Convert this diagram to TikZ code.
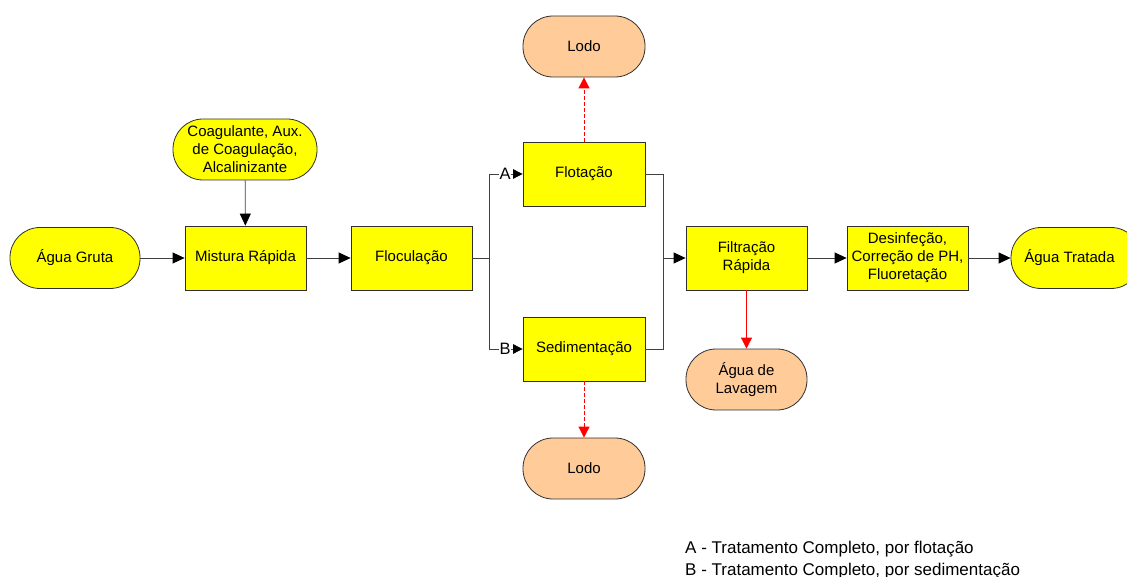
\documentclass[tikz,border=0pt]{standalone}
\usepackage{fontspec}
\setmainfont{Liberation Sans}
\usetikzlibrary{arrows.meta}

\definecolor{procfill}{HTML}{FFFF00}
\definecolor{wastefill}{HTML}{FFCC99}
\definecolor{edgegray}{HTML}{303030}
\definecolor{linegray}{HTML}{404040}
\definecolor{wastered}{HTML}{FF0000}

\tikzset{
  base/.style={font=\fontsize{15}{18}\selectfont, align=center, inner sep=1pt,
    draw=edgegray, line width=0.8pt},
  procbox/.style={base, rectangle, fill=procfill, minimum width=121pt, minimum height=64pt},
  terminal/.style={base, rectangle, rounded corners=30pt, fill=procfill,
    minimum width=#1, minimum height=61pt},
  terminal/.default=130pt,
  waste/.style={terminal=122pt, fill=wastefill},
  flow/.style={draw=linegray, line width=0.8pt},
  flowarrow/.style={flow, -{Triangle[length=12pt, width=11pt, color=black]}},
  branchtip/.style={flow, -{Triangle[length=9.5pt, width=9.5pt, color=black]}},
  redflow/.style={draw=wastered, line width=0.8pt, -{Triangle[length=11pt, width=11pt]}},
  reddash/.style={redflow, dash pattern=on 4pt off 2pt},
  tag/.style={font=\fontsize{16.5}{18}\selectfont, fill=white, inner sep=0.5pt},
  legend/.style={font=\fontsize{17}{20}\selectfont, anchor=base west, inner sep=0pt}
}

\begin{document}
\begin{tikzpicture}[x=1pt, y=-1pt]
  \useasboundingbox (0,0) rectangle (1127,577);

  % Process units
  \node[terminal] (agua) at (75,258) {Água Gruta};
  \node[terminal=144pt] (coag) at (245,149.5) {Coagulante, Aux.\\de Coagulação,\\Alcalinizante};
  \node[procbox] (mist) at (245.5,258) {Mistura Rápida};
  \node[procbox] (floc) at (411.5,258) {Floculação};
  \node[procbox, minimum width=122pt] (flot) at (584,174) {Flotação};
  \node[procbox, minimum width=122pt] (sed) at (584,349) {Sedimentação};
  \node[procbox] (filt) at (746.5,258) {Filtração\\Rápida};
  \node[procbox] (desinf) at (907.5,258) {Desinfeção,\\Correção de PH,\\Fluoretação};
  \node[terminal] (tratada) at (1076,258) {\hspace*{-13pt}Água Tratada};

  % Residues
  \node[waste] (lodoA) at (584,46.5) {Lodo};
  \node[waste] (lodoB) at (584,468.5) {Lodo};
  \node[terminal=121pt, fill=wastefill] (lavagem) at (746.5,379.5) {Água de\\Lavagem};

  % Junctions of the two treatment routes
  \coordinate (split) at (489.5,258);
  \coordinate (merge) at (663,258);

  % Main line
  \draw[flowarrow] (agua) -- (mist);
  \draw[flowarrow] (coag) -- (mist);
  \draw[flowarrow] (mist) -- (floc);
  \draw[flow] (floc.east) -- (split);
  \draw[branchtip] (split) |- (flot.west);
  \draw[branchtip] (split) |- (sed.west);
  \node[tag] (tagA) at (505,174) {A};
  \node[tag] (tagB) at (505,349) {B};
  \draw[flow] (flot.east) -| (merge);
  \draw[flow] (sed.east) -| (merge);
  \draw[flowarrow] (merge) -- (filt.west);
  \draw[flowarrow] (filt) -- (desinf);
  \draw[flowarrow] (desinf) -- (tratada.west);

  % Residue streams
  \draw[reddash] (flot) -- (lodoA);
  \draw[reddash] (sed) -- (lodoB);
  \draw[redflow] (filt) -- (lavagem);

  % Legend
  \node[legend] (legA) at (685,553.5) {A - Tratamento Completo, por flotação};
  \node[legend] (legB) at (685,575) {B - Tratamento Completo, por sedimentação};
\end{tikzpicture}
\end{document}
